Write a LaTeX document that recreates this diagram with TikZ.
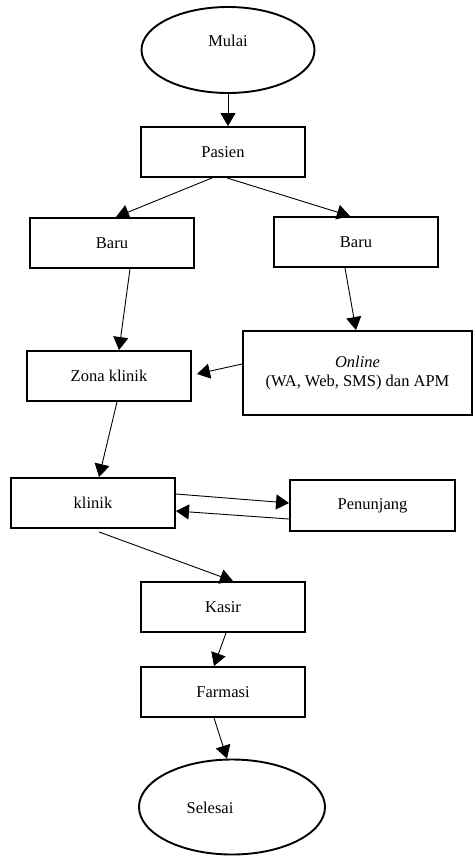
\documentclass[tikz,border=0pt]{standalone}
\usepackage{fontspec}
\setmainfont{Liberation Serif}
\usetikzlibrary{shapes.geometric,arrows.meta}

\begin{document}
\begin{tikzpicture}[x=1pt, y=-1pt,
    every node/.style={font=\fontsize{16.5}{19.5}\selectfont},
    proses/.style={draw, line width=1.9pt, minimum width=164pt, minimum height=50pt, inner sep=0pt},
    terminal/.style={draw, ellipse, line width=1.9pt, inner sep=0pt},
    panah/.style={-{Triangle[length=13pt,width=15pt]}, line width=0.9pt}]
    \useasboundingbox (0,0) rectangle (473,856);

    % Start and end
    \node[terminal, minimum width=173pt, minimum height=86pt] (mulai) at (228,50) {};
    \node at (228,41) {Mulai};
    \node[terminal, minimum width=186pt, minimum height=95pt] (selesai) at (232,807) {};
    \node at (210,808) {Selesai};

    % Process boxes
    \node[proses] (pasien) at (223,152) {Pasien};
    \node[proses] (barukiri) at (112,243) {Baru};
    \node[proses] (barukanan) at (356,242) {Baru};
    \node[proses, minimum width=229pt, minimum height=84pt, align=center] (online) at (357.5,373)
        {\textit{Online}\\(WA, Web, SMS) dan APM};
    \node[proses] (zona) at (109,376) {Zona klinik};
    \node[proses] (klinik) at (93,503) {klinik};
    \node[proses, minimum width=165pt, minimum height=51pt] (penunjang) at (372.5,505.5) {Penunjang};
    \node[proses] (kasir) at (223,607) {Kasir};
    \node[proses] (farmasi) at (223,692) {Farmasi};

    % Arrows
    \draw[panah] (mulai.south) -- (mulai.south |- pasien.north);
    \draw[panah] ([xshift=-11pt]pasien.south) -- ([xshift=4pt]barukiri.north);
    \draw[panah] ([xshift=4pt]pasien.south) -- ([xshift=-6pt]barukanan.north);
    \draw[panah] ([xshift=18pt]barukiri.south) -- ([xshift=10pt]zona.north);
    \draw[panah] ([xshift=-11pt]barukanan.south) -- ([xshift=-1.5pt]online.north);
    \draw[panah] ([yshift=9pt]online.west) -- ([xshift=5pt,yshift=2pt]zona.east);
    \draw[panah] ([xshift=8pt]zona.south) -- ([xshift=6pt]klinik.north);
    \draw[panah] ([yshift=9pt]klinik.east) -- ([yshift=2.5pt]penunjang.west);
    \draw[panah] ([yshift=-13.5pt]penunjang.west) -- ([yshift=-8pt]klinik.east);
    \draw[panah] ([xshift=6pt,yshift=-3pt]klinik.south) -- ([xshift=10pt]kasir.north);
    \draw[panah] ([xshift=3pt]kasir.south) -- ([xshift=-9pt]farmasi.north);
    \draw[panah] ([xshift=-9pt]farmasi.south) -- ([xshift=-5pt]selesai.north);
\end{tikzpicture}
\end{document}
